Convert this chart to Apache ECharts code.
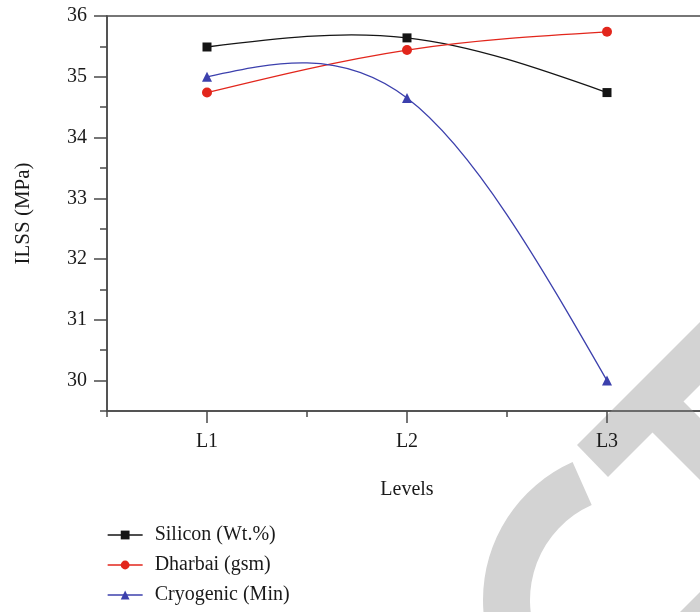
<!DOCTYPE html>
<html>
<head>
<meta charset="utf-8">
<script src="https://cdn.jsdelivr.net/npm/echarts@6/dist/echarts.min.js"></script>
<style>
html,body{margin:0;padding:0;background:#fff;overflow:hidden;width:700px;height:612px;}
#chart{width:720px;height:612px;}
</style>
</head>
<body>
<div id="chart"></div>
<script>
const categories = ['L1', 'L2', 'L3'];
const silicon = [35.49, 35.64, 34.74];
const dharbai = [34.74, 35.44, 35.74];
const cryogenic = [35.0, 34.65, 30.0];
const yMajorTicks = [30, 31, 32, 33, 34, 35, 36];
const yMinorTicks = [29.5, 30.5, 31.5, 32.5, 33.5, 34.5, 35.5];
const seriesNames = ['Silicon (Wt.%)', 'Dharbai (gsm)', 'Cryogenic (Min)'];
const seriesValues = [silicon, dharbai, cryogenic];
const seriesColors = ['#151515', '#e2261c', '#3c40ad'];
const seriesSymbols = ['rect', 'circle', 'triangle'];
const symbolSizes = [9, 10, 10];

const FONT = 'Liberation Serif';
const AX = '#4a4a4a';
const txt = { fontFamily: FONT, fontSize: 20, color: '#1a1a1a' };

// natural cubic spline through pixel points, returned as bezier segments
function splineSegments(pts) {
  const n = pts.length;
  const h = [], M = new Array(n).fill(0);
  for (let i = 0; i < n - 1; i++) h.push(pts[i + 1][0] - pts[i][0]);
  if (n > 2) {
    const a = [], b = [], c = [], d = [];
    for (let i = 1; i < n - 1; i++) {
      a.push(h[i - 1]); b.push(2 * (h[i - 1] + h[i])); c.push(h[i]);
      d.push(6 * ((pts[i + 1][1] - pts[i][1]) / h[i] - (pts[i][1] - pts[i - 1][1]) / h[i - 1]));
    }
    const m = b.length;
    for (let i = 1; i < m; i++) {
      const w = a[i] / b[i - 1];
      b[i] -= w * c[i - 1]; d[i] -= w * d[i - 1];
    }
    const sol = new Array(m);
    sol[m - 1] = d[m - 1] / b[m - 1];
    for (let i = m - 2; i >= 0; i--) sol[i] = (d[i] - c[i] * sol[i + 1]) / b[i];
    for (let i = 0; i < m; i++) M[i + 1] = sol[i];
  }
  const segs = [];
  for (let i = 0; i < n - 1; i++) {
    const hi = h[i];
    const dy = (pts[i + 1][1] - pts[i][1]) / hi;
    const m0 = dy - hi * (2 * M[i] + M[i + 1]) / 6;
    const m1 = dy + hi * (M[i] + 2 * M[i + 1]) / 6;
    segs.push({
      x1: pts[i][0], y1: pts[i][1], x2: pts[i + 1][0], y2: pts[i + 1][1],
      cpx1: pts[i][0] + hi / 3, cpy1: pts[i][1] + m0 * hi / 3,
      cpx2: pts[i + 1][0] - hi / 3, cpy2: pts[i + 1][1] - m1 * hi / 3
    });
  }
  return segs;
}

function curveSeries(k) {
  const vals = seriesValues[k];
  return {
    type: 'custom', name: 'curve' + k, coordinateSystem: 'cartesian2d',
    xAxisIndex: 0, yAxisIndex: 0, z: 4, silent: true,
    data: vals.map((v, i) => [i, v]),
    encode: { x: 0, y: 1 },
    renderItem: function (params, api) {
      const i = params.dataIndex;
      if (i >= vals.length - 1) return null;
      const pts = vals.map((v, j) => api.coord([j, v]));
      const seg = splineSegments(pts)[i];
      return { type: 'bezierCurve', shape: seg, style: { stroke: seriesColors[k], lineWidth: 1.3, fill: 'none' } };
    }
  };
}

const chart = echarts.init(document.getElementById('chart'), null, { renderer: 'canvas' });
const wm = '#d3d3d3';
chart.setOption({
  backgroundColor: '#fff',
  animation: false,
  graphic: { elements: [
    { type: 'sector', z: 0, shape: { cx: 634, cy: 600, r: 151, r0: 104, startAngle: Math.PI / 2, endAngle: 246 * Math.PI / 180, clockwise: true }, style: { fill: wm } },
    { type: 'polygon', z: 0, shape: { points: [[577, 445], [608, 477], [800, 285], [769, 253]] }, style: { fill: wm } },
    { type: 'polygon', z: 0, shape: { points: [[640, 420], [800, 580], [831, 549], [671, 389]] }, style: { fill: wm } },
    { type: 'polygon', z: 0, shape: { points: [[680, 612], [700, 592], [720, 612]] }, style: { fill: wm } }
  ] },
  grid: { left: 107, top: 16, width: 600, height: 395, show: true, borderColor: AX, borderWidth: 1.5, backgroundColor: 'transparent' },
  legend: {
    orient: 'vertical', left: 102, top: 520,
    itemWidth: 35, itemHeight: 11, itemGap: 10,
    textStyle: Object.assign({}, txt, { padding: [0, 0, 0, 7] }),
    lineStyle: { opacity: 1, width: 1.3 },
    data: seriesNames
  },
  xAxis: [
    {
      type: 'category', data: categories, position: 'bottom', boundaryGap: true,
      name: 'Levels', nameLocation: 'middle', nameGap: 69, nameTextStyle: txt,
      axisLine: { show: true, lineStyle: { color: AX, width: 1.5 } },
      axisTick: { show: true, alignWithLabel: true, length: 12, lineStyle: { color: AX, width: 1.5 } },
      axisLabel: Object.assign({ margin: 21 }, txt),
      splitLine: { show: false }
    },
    {
      type: 'category', data: categories, position: 'bottom', boundaryGap: true,
      axisLine: { show: false },
      axisTick: { show: true, alignWithLabel: false, length: 6, lineStyle: { color: AX, width: 1.5 } },
      axisLabel: { show: false },
      splitLine: { show: false }
    }
  ],
  yAxis: [
    {
      type: 'value', min: 29.5, max: 36, interval: 0.5, position: 'left',
      name: 'ILSS (MPa)', nameLocation: 'middle', nameGap: 73, nameRotate: 90,
      nameTextStyle: Object.assign({}, txt, { fontSize: 21 }),
      axisLine: { show: true, lineStyle: { color: AX, width: 1.5 } },
      axisTick: { show: true, length: 13, customValues: yMajorTicks, lineStyle: { color: AX, width: 1.5 } },
      axisLabel: Object.assign({ margin: 20, customValues: yMajorTicks, formatter: v => String(v) }, txt),
      splitLine: { show: false }
    },
    {
      type: 'value', min: 29.5, max: 36, interval: 0.5, position: 'left',
      axisLine: { show: false },
      axisTick: { show: true, length: 7, customValues: yMinorTicks, lineStyle: { color: AX, width: 1.5 } },
      axisLabel: { show: false },
      splitLine: { show: false }
    }
  ],
  series: seriesNames.map((nm, k) => ({
    name: nm, type: 'line', data: seriesValues[k], symbol: seriesSymbols[k], symbolSize: symbolSizes[k],
    color: seriesColors[k], lineStyle: { width: 1.3, opacity: 0 }, z: 5
  })).concat([0, 1, 2].map(curveSeries))
});
</script>
</body>
</html>
